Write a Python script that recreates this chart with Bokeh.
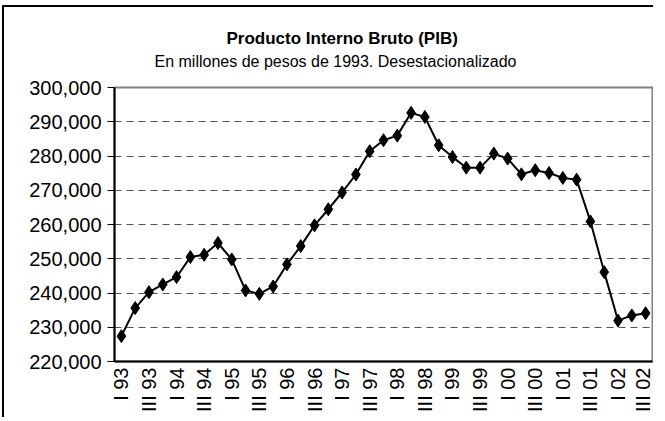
from bokeh.plotting import figure
from bokeh.models import (Range1d, FixedTicker, NumeralTickFormatter, Title,
                          ColumnDataSource)
from bokeh.embed import file_html
from bokeh.resources import INLINE

title_text = "Producto Interno Bruto (PIB)"
subtitle_text = "En millones de pesos de 1993. Desestacionalizado"

# Quarterly GDP, 1993 Q1 .. 2002 Q3 (millions of 1993 pesos, seasonally adjusted)
pib = [
    227400, 235600, 240250, 242500, 244650, 250500, 251150, 254600,
    249800, 240750, 239750, 241900, 248350, 253700, 259750, 264450,
    269350, 274600, 281400, 284600, 285950, 292600, 291400, 283150,
    279700, 276600, 276600, 280700, 279250, 274650, 275850, 275050,
    273600, 273100, 260900, 246100, 231950, 233450, 234100,
]

tick_labels = [
    "I 93", "III 93", "I 94", "III 94", "I 95", "III 95", "I 96", "III 96",
    "I 97", "III 97", "I 98", "III 98", "I 99", "III 99", "I 00", "III 00",
    "I 01", "III 01", "I 02", "III 02",
]

y_ticks = [220000, 230000, 240000, 250000, 260000, 270000, 280000, 290000, 300000]

idx = list(range(len(pib)))
src = ColumnDataSource(data=dict(x=idx, y=pib))

FONT = "Liberation Sans"

p = figure(
    width=651, height=412,
    x_range=Range1d(-0.5, len(pib) - 0.5),
    y_range=Range1d(y_ticks[0], y_ticks[-1]),
    output_backend="svg", toolbar_location=None,
    min_border_left=110, min_border_right=3, min_border_top=80, min_border_bottom=58,
)
p.styles = {"border-left": "2px solid black", "border-top": "2px solid black",
            "margin-left": "2px", "margin-top": "5px"}

p.background_fill_color = "white"
p.border_fill_color = "white"
p.outline_line_color = "#808080"
p.outline_line_width = 2

# x axis
xax = p.below[0]
tick_pos = idx[::2]
xax.ticker = FixedTicker(ticks=tick_pos)
xax.major_label_overrides = {t: lab for t, lab in zip(tick_pos, tick_labels)}
xax.major_label_orientation = 1.5707963267948966
xax.major_tick_out = 0
xax.major_tick_in = 0
xax.minor_tick_out = 0
xax.minor_tick_in = 0
xax.axis_line_color = "black"
xax.axis_line_width = 2
xax.major_label_standoff = 6
xax.major_label_text_font = FONT
xax.major_label_text_font_size = "20px"
xax.major_label_text_color = "black"

# y axis
p.yaxis.ticker = FixedTicker(ticks=y_ticks)
p.yaxis.formatter = NumeralTickFormatter(format="0,0")
p.yaxis.major_tick_out = 7
p.yaxis.major_tick_in = 0
p.yaxis.minor_tick_out = 0
p.yaxis.minor_tick_in = 0
p.yaxis.major_tick_line_color = "black"
p.yaxis.axis_line_color = "black"
p.yaxis.axis_line_width = 2
p.yaxis.major_label_standoff = 6
p.yaxis.major_label_text_font = FONT
p.yaxis.major_label_text_font_size = "20px"
p.yaxis.major_label_text_color = "black"

p.xgrid.visible = False
p.ygrid.ticker = FixedTicker(ticks=y_ticks[1:-1])
p.ygrid.grid_line_color = "#555555"
p.ygrid.grid_line_dash = "7 5"
p.ygrid.grid_line_width = 1

p.line("x", "y", source=src, line_color="black", line_width=2)
p.scatter("x", "y", source=src, marker="diamond", size=13,
          fill_color="black", line_color="black")

p.add_layout(Title(text=subtitle_text, align="left", offset=40, text_font=FONT,
                   text_font_size="16px", text_font_style="normal",
                   text_color="black", standoff=36), "above")
p.add_layout(Title(text=title_text, align="left", offset=112, text_font=FONT,
                   text_font_size="17px", text_font_style="bold",
                   text_color="black", standoff=-30), "above")

open("out.html", "w").write(file_html(p, INLINE))
